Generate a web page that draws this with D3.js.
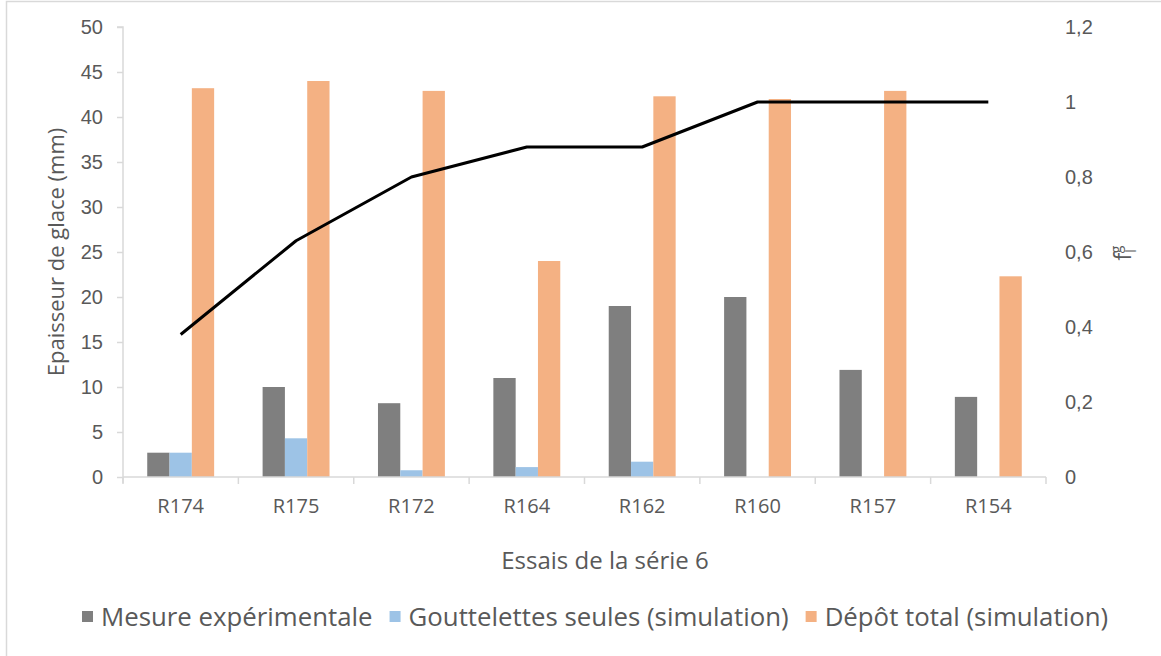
<!DOCTYPE html>
<html lang="fr">
<head>
<meta charset="utf-8">
<script src="https://cdn.jsdelivr.net/npm/d3@7"></script>
<style>
  html, body { margin: 0; padding: 0; background: #ffffff; }
  svg { display: block; font-family: "Open Sans", "DejaVu Sans", sans-serif; }
</style>
</head>
<body>
<svg id="chart" width="1161" height="656"></svg>
<script>
// Essais de la série 6
const categories = ["R174", "R175", "R172", "R164", "R162", "R160", "R157", "R154"];
const seriesNames = ["Mesure expérimentale", "Gouttelettes seules (simulation)", "Dépôt total (simulation)"];
const mesure = [2.7, 10.0, 8.2, 11.0, 19.0, 20.0, 11.9, 8.9];
const gouttelettes = [2.7, 4.3, 0.75, 1.1, 1.7, 0, 0, 0];
const depotTotal = [43.2, 44.0, 42.9, 24.0, 42.3, 42.0, 42.9, 22.3];
const fraction = [0.38, 0.63, 0.80, 0.88, 0.88, 1.0, 1.0, 1.0];
const leftTicks = [0, 5, 10, 15, 20, 25, 30, 35, 40, 45, 50];
const rightTicks = [0, 0.2, 0.4, 0.6, 0.8, 1.0, 1.2];
const colors = ["#7f7f7f", "#9dc3e6", "#f4b183"];

const svg = d3.select("#chart");
const textColor = "#595959";
const axisColor = "#d9d9d9";

// Outer chart frame
svg.append("rect")
  .attr("x", 6.5).attr("y", 1.5)
  .attr("width", 1200).attr("height", 700)
  .attr("fill", "none").attr("stroke", "#d9d9d9").attr("stroke-width", 1.5);

const plot = { left: 123, right: 1046, top: 27, bottom: 477 };

const x = d3.scaleBand().domain(categories)
  .range([plot.left, plot.right])
  .paddingInner(0.42).paddingOuter(0.21);
const xs = d3.scaleBand().domain(seriesNames).range([0, x.bandwidth()]);
const y = d3.scaleLinear().domain([0, 50]).range([plot.bottom, plot.top]);
const y2 = d3.scaleLinear().domain([0, 1.2]).range([plot.bottom, plot.top]);

const rows = categories.map((c, i) => ({ cat: c, values: [mesure[i], gouttelettes[i], depotTotal[i]] }));

// Bars
const groups = svg.append("g").selectAll("g").data(rows).join("g")
  .attr("transform", d => `translate(${x(d.cat)},0)`);
groups.selectAll("rect")
  .data(d => d.values.map((v, k) => ({ v, k })))
  .join("rect")
  .attr("x", d => xs(seriesNames[d.k]))
  .attr("width", xs.bandwidth())
  .attr("y", d => y(d.v))
  .attr("height", d => y(0) - y(d.v))
  .attr("fill", d => colors[d.k]);

// Left axis
const yAxis = svg.append("g")
  .attr("transform", `translate(${plot.left},0)`)
  .call(d3.axisLeft(y).tickValues(leftTicks).tickSize(6).tickPadding(14));
yAxis.select(".domain").attr("stroke", axisColor).attr("stroke-width", 1.5)
  .attr("d", `M-6,${plot.top}H0V${plot.bottom + 6}`);
yAxis.selectAll(".tick line").attr("stroke", axisColor).attr("stroke-width", 1.5);
yAxis.selectAll(".tick text").attr("fill", textColor).style("font-size", "20px");

// Bottom axis
const xAxis = svg.append("g")
  .attr("transform", `translate(0,${plot.bottom})`);
xAxis.append("path")
  .attr("d", `M${plot.left},0H${plot.right}`)
  .attr("stroke", axisColor).attr("stroke-width", 1.5).attr("fill", "none");
const boundaries = categories.map(c => x(c) - x.step() * x.paddingInner() / 2)
  .concat([plot.right]);
xAxis.selectAll("line.sep").data(boundaries).join("line")
  .attr("class", "sep")
  .attr("x1", d => d).attr("x2", d => d)
  .attr("y1", 0).attr("y2", 7)
  .attr("stroke", axisColor).attr("stroke-width", 1.5);
xAxis.selectAll("text.cat").data(categories).join("text")
  .attr("class", "cat")
  .attr("x", d => x(d) + x.bandwidth() / 2)
  .attr("y", 36)
  .attr("text-anchor", "middle")
  .attr("fill", textColor)
  .style("font-size", "20px")
  .text(d => d);

// Right axis (labels only)
const fmt = v => d3.format(".1~f")(v).replace(".", ",");
const yAxis2 = svg.append("g")
  .attr("transform", `translate(${plot.right},0)`)
  .call(d3.axisRight(y2).tickValues(rightTicks).tickSize(0).tickPadding(19).tickFormat(fmt));
yAxis2.select(".domain").remove();
yAxis2.selectAll(".tick text").attr("fill", textColor).style("font-size", "20px");

// Fraction line
const line = d3.line()
  .x((d, i) => x(categories[i]) + x.bandwidth() / 2)
  .y(d => y2(d));
svg.append("path")
  .datum(fraction)
  .attr("d", line)
  .attr("fill", "none")
  .attr("stroke", "#000000")
  .attr("stroke-width", 3)
  .attr("stroke-linejoin", "round");

// Axis titles
svg.append("text")
  .attr("transform", `translate(64,${(plot.top + plot.bottom) / 2}) rotate(-90)`)
  .attr("text-anchor", "middle")
  .attr("fill", textColor)
  .style("font-size", "22px")
  .text("Epaisseur de glace (mm)");

const fTitle = svg.append("text")
  .attr("transform", `translate(1131,253) rotate(-90)`)
  .attr("text-anchor", "middle")
  .attr("fill", textColor)
  .style("font-size", "23px");
fTitle.append("tspan").text("f");
fTitle.append("tspan").attr("dy", 5).style("font-size", "14px").text("l");
fTitle.append("tspan").attr("dx", -4).attr("dy", -15).style("font-size", "14px").text("g");

svg.append("text")
  .attr("x", 605)
  .attr("y", 569)
  .attr("text-anchor", "middle")
  .attr("fill", textColor)
  .style("font-size", "24px")
  .text("Essais de la série 6");

// Legend
const legend = svg.append("g").attr("transform", "translate(82,626)");
let lx = 0;
seriesNames.forEach((name, k) => {
  const g = legend.append("g").attr("transform", `translate(${lx},0)`);
  g.append("rect").attr("x", 0).attr("y", -15).attr("width", 11).attr("height", 11).attr("fill", colors[k]);
  const t = g.append("text").attr("x", 19).attr("y", 0)
    .attr("fill", textColor).style("font-size", "25.8px").text(name);
  lx += 19 + t.node().getComputedTextLength() + 17;
});
</script>
</body>
</html>
